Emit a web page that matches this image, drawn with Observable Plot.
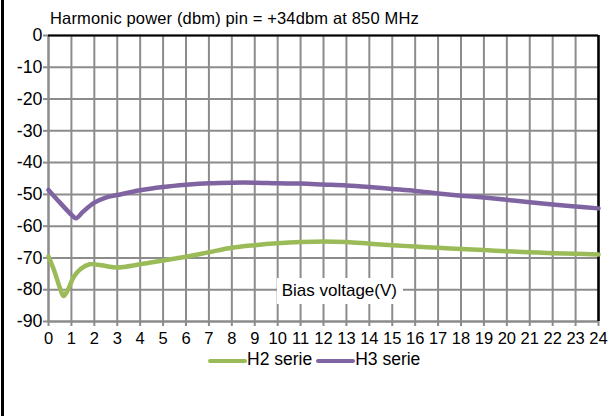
<!DOCTYPE html>
<html><head><meta charset="utf-8">
<script src="https://cdn.jsdelivr.net/npm/d3@7"></script>
<script src="https://cdn.jsdelivr.net/npm/@observablehq/plot@0.6"></script>
<style>
body{margin:0;background:#fff;}
#wrap{position:relative;width:612px;height:416px;overflow:hidden;font-family:"Liberation Sans",Arial,sans-serif;background:#fff;}
#border{position:absolute;left:1px;top:0;width:3px;height:416px;background:#000;}
#title{position:absolute;left:50px;top:10px;font-size:16.5px;line-height:16.5px;letter-spacing:0.15px;color:#000;white-space:nowrap;}
#chart{position:absolute;left:0;top:0;}
#xlabel{position:absolute;left:277px;top:277.5px;height:26px;line-height:26px;padding:0 6px 0 4.7px;background:#fff;font-size:17px;white-space:nowrap;}
#legend{position:absolute;left:208px;top:350.5px;display:flex;align-items:flex-start;font-size:17.5px;line-height:17.5px;white-space:nowrap;}
#legend .sw{display:inline-block;width:39px;height:4px;border-radius:2px;margin-top:8.5px;}
#legend .lab{margin-right:4px;}
</style>
</head><body>
<div id="wrap">
  <div id="chart"></div>
  <div id="border"></div>
  <div id="title"></div>
  <div id="xlabel"></div>
  <div id="legend"></div>
</div>
<script>
const titleText = "Harmonic power (dbm) pin = +34dbm at 850 MHz";
const xLabel = "Bias voltage(V)";
const seriesNames = ["H2 serie", "H3 serie"];
const seriesColors = ["#9bbb59", "#8064a2"];
const xTicks = d3.range(0, 25, 1);
const yTicks = [0, -10, -20, -30, -40, -50, -60, -70, -80, -90];

const h2X = [0,0.25,0.5,0.66,0.85,1.1,1.4,1.8,2.3,3,4,5,6,7,8,9,10,11,12,13,14,15,16,17,18,19,20,21,22,23,24];
const h2Y = [-69.5,-74,-79.5,-82,-80,-76,-73.5,-72,-72.3,-73,-72,-70.8,-69.6,-68.2,-66.8,-66,-65.4,-65,-64.8,-65,-65.5,-66,-66.4,-66.8,-67.2,-67.5,-67.9,-68.2,-68.5,-68.7,-68.9];
const h3X = [0,0.5,1,1.2,1.5,2,2.5,3,4,5,6,7,8,9,10,11,12,13,14,15,16,17,18,19,20,21,22,23,24];
const h3Y = [-48.6,-52.6,-56.4,-57.5,-55.5,-52.6,-51,-50.2,-48.7,-47.7,-47,-46.5,-46.3,-46.3,-46.5,-46.6,-46.9,-47.2,-47.7,-48.3,-48.9,-49.7,-50.4,-51,-51.7,-52.5,-53.2,-53.8,-54.4];

const h2 = h2X.map((x,i)=>({x, y:h2Y[i]}));
const h3 = h3X.map((x,i)=>({x, y:h3Y[i]}));

const grid = "#8c8c8c";
const chart = Plot.plot({
  width: 612,
  height: 352,
  marginLeft: 48,
  marginRight: 14,
  marginTop: 35,
  marginBottom: 31,
  style: {fontFamily: '"Liberation Sans", Arial, sans-serif', fontSize: "16.5px", color: "#000", background: "transparent", overflow: "visible"},
  x: {domain: [0, 24], ticks: xTicks},
  y: {domain: [-90, 0], ticks: yTicks},
  marks: [
    Plot.gridX(xTicks, {stroke: grid, strokeOpacity: 1, strokeWidth: 2}),
    Plot.gridY(yTicks, {stroke: grid, strokeOpacity: 1, strokeWidth: 2}),
    Plot.ruleX([0], {stroke: grid, strokeWidth: 2}),
    Plot.ruleY([-90], {stroke: grid, strokeWidth: 2}),
    Plot.ruleY([0], {stroke: "#000", strokeWidth: 2}),
    Plot.ruleX([24], {stroke: "#000", strokeWidth: 2.5}),
    Plot.axisX(xTicks, {tickSize: 5, tickPadding: 6, stroke: grid, strokeWidth: 2, fill: "#000", fontSize: 16.5, tickFormat: d => String(d), label: null}),
    Plot.axisY(yTicks, {tickSize: 5, tickPadding: 1, stroke: grid, strokeWidth: 2, fill: "#000", fontSize: 17.8, tickFormat: d => String(d), label: null}),
    Plot.line(h2, {x: "x", y: "y", stroke: seriesColors[0], strokeWidth: 4.5, curve: "catmull-rom"}),
    Plot.line(h3, {x: "x", y: "y", stroke: seriesColors[1], strokeWidth: 4.5, curve: "catmull-rom"})
  ]
});
document.getElementById("chart").appendChild(chart);
document.getElementById("title").textContent = titleText;
document.getElementById("xlabel").textContent = xLabel;
const leg = document.getElementById("legend");
seriesNames.forEach((n,i)=>{
  const sw = document.createElement("span"); sw.className="sw"; sw.style.background = seriesColors[i];
  const lb = document.createElement("span"); lb.className="lab"; lb.textContent = n;
  leg.appendChild(sw); leg.appendChild(lb);
});
</script>
</body></html>
